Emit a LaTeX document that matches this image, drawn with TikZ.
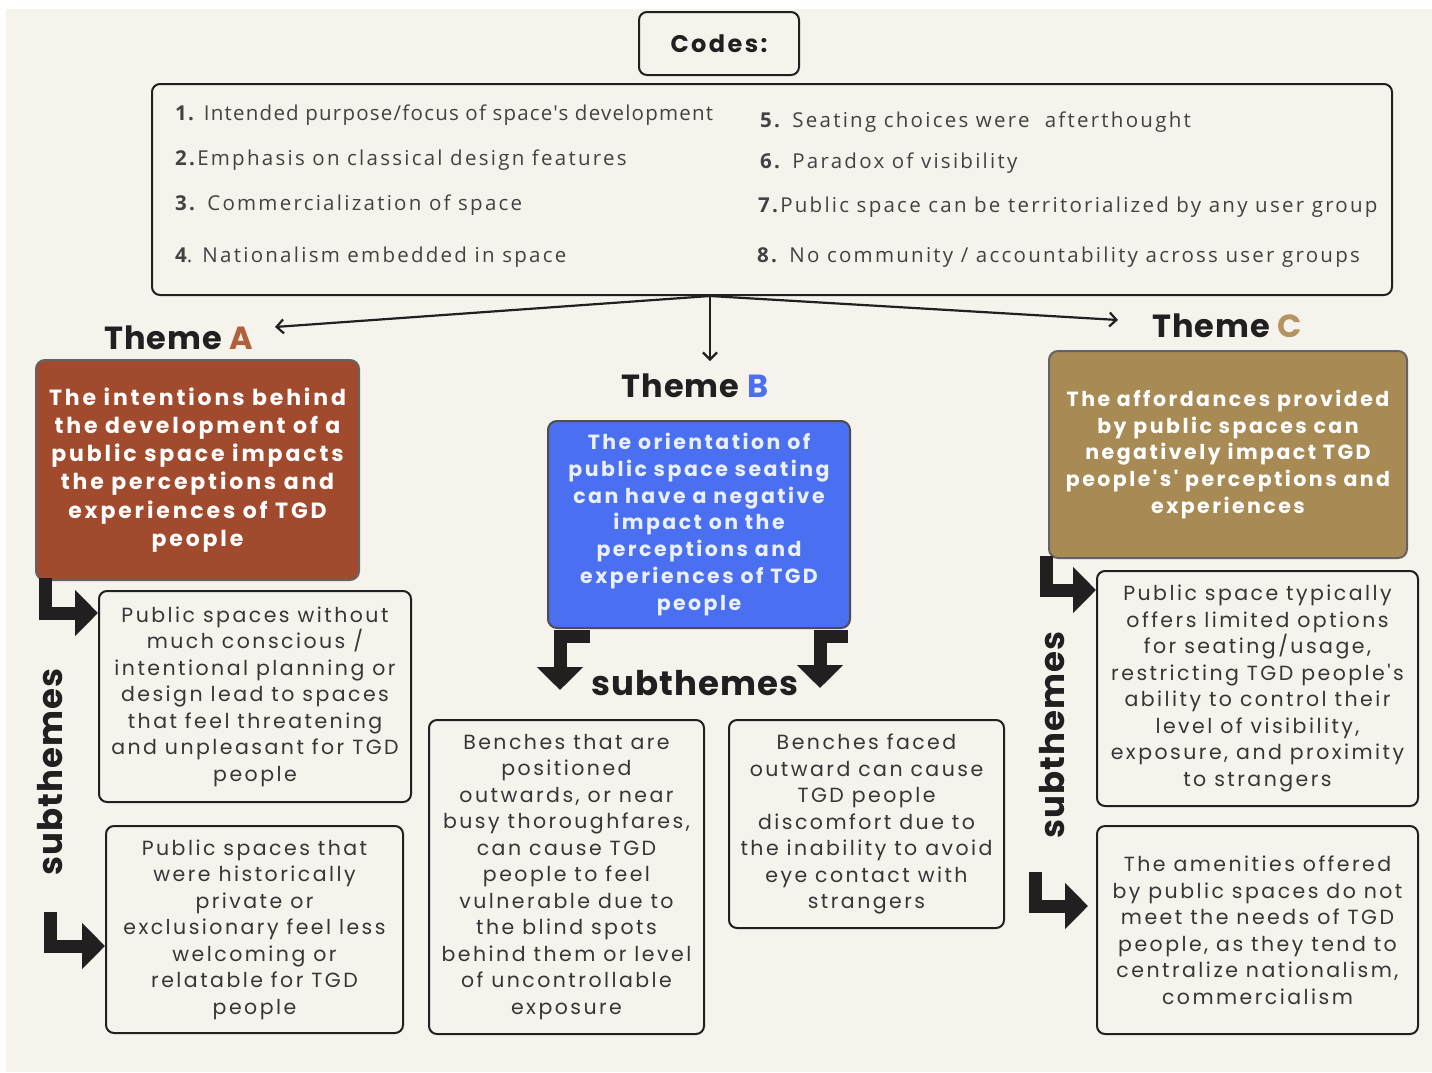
\documentclass[tikz,border=0pt]{standalone}
\usepackage{fontspec}
\setmainfont{Poppins}
\newfontfamily\boxfont[LetterSpace=12]{Poppins}
\newfontfamily\themefont[LetterSpace=12]{Poppins}
\newfontfamily\themefontA[LetterSpace=13]{Poppins}
\newfontfamily\codefont[LetterSpace=11]{Open Sans}
\newfontfamily\codefontone[LetterSpace=6]{Open Sans}
\newfontfamily\headfont[LetterSpace=3]{Poppins}
\newfontfamily\codeshead[LetterSpace=10]{Poppins}
\usetikzlibrary{arrows.meta,positioning,calc}
\definecolor{cream}{HTML}{F6F2EC}
\definecolor{ink}{HTML}{231F20}
\definecolor{brickA}{HTML}{A24A2E}
\definecolor{blueB}{HTML}{4A6FF0}
\definecolor{tanC}{HTML}{A88A55}
\definecolor{lblA}{HTML}{B0603A}
\definecolor{lblB}{HTML}{4A6FF0}
\definecolor{lblC}{HTML}{B39462}
\definecolor{btext}{HTML}{EAF0FF}
\tikzset{
  subbox/.style={draw=ink, line width=2pt, rounded corners=8pt, fill=cream,
    align=center, inner sep=0pt, text=ink!90,
    font=\boxfont\fontsize{20.5}{26.5}\selectfont},
  themebox/.style={draw=ink!70, line width=2pt, rounded corners=9pt,
    align=center, inner sep=0pt, text=white,
    font=\themefont\bfseries\fontsize{20.5}{26.7}\selectfont},
  themelabel/.style={font=\headfont\bfseries\fontsize{32}{36}\selectfont, text=ink, inner sep=0pt},
  codeitem/.style={anchor=west, inner sep=0pt, text=ink!85,
    font=\codefont\fontsize{20.5}{22}\selectfont},
  thin/.style={draw=ink, line width=2.2pt, -{Straight Barb[length=7pt,width=14pt,line width=2.2pt]}},
  bent/.style={draw=ink, line width=13pt, line join=miter,
    -{Triangle[width=45pt,length=23pt]}},
  subword/.style={font=\headfont\bfseries\fontsize{34}{38}\selectfont, text=ink, inner sep=0pt}
}
\begin{document}
\begin{tikzpicture}[x=1pt,y=-1pt]
\useasboundingbox (0,0) rectangle (1432,1072);
\fill[white] (0,0) rectangle (1432,1072);
\fill[cream] (6,9) rectangle (1432,1072);

% Codes header and list
\node[draw=ink, line width=2pt, rounded corners=8pt, fill=cream,
  minimum width=160pt, minimum height=63pt, font=\codeshead\bfseries\fontsize{24}{28}\selectfont, text=ink]
  (codes) at (719,43.5) {Codes:};
\node[draw=ink, line width=2pt, rounded corners=8pt,
  minimum width=1240pt, minimum height=211pt] (list) at (772,189.5) {};
\node[codeitem, font=\codefontone\fontsize{20.5}{22}\selectfont] (c1) at (175,115) {\textbf{1.} Intended purpose/focus of space's development};
\node[codeitem] (c2) at (175,160) {\textbf{2.}Emphasis on classical design features};
\node[codeitem] (c3) at (175,205) {\textbf{3.} Commercialization of space};
\node[codeitem] (c4) at (175,257) {\textbf{4}. Nationalism embedded in space};
\node[codeitem] (c5) at (760,122) {\textbf{5.} Seating choices were \ afterthought};
\node[codeitem] (c6) at (760,163) {\textbf{6.} Paradox of visibility};
\node[codeitem] (c7) at (758,207) {\textbf{7.}Public space can be territorialized by any user group};
\node[codeitem] (c8) at (757,257) {\textbf{8.} No community / accountability across user groups};

% Theme labels
\node[themelabel] (thA) at (179,338) {Theme \textcolor{lblA}{A}};
\node[themelabel] (thB) at (695,386) {Theme \textcolor{lblB}{B}};
\node[themelabel] (thC) at (1227,326) {Theme \textcolor{lblC}{C}};

% Connectors from codes
\coordinate (hub) at (710,296);
\coordinate (endA) at (275,327);
\coordinate (endB) at (710,361);
\coordinate (endC) at (1118,320);
\draw[thin] (hub) -- (endA);
\draw[thin] (hub) -- (endB);
\draw[thin] (hub) -- (endC);

% Theme boxes
\node[themebox, fill=brickA, minimum width=323pt, minimum height=220pt,
  font=\themefontA\bfseries\fontsize{22}{28.2}\selectfont] (boxA) at (197.5,470)
  {The intentions behind\\the development of a\\public space impacts\\the perceptions and\\experiences of TGD\\people};
\node[themebox, fill=blueB, draw=ink!80, text=btext, minimum width=302pt, minimum height=207pt] (boxB) at (699,524.5)
  {The orientation of\\public space seating\\can have a negative\\impact on the\\perceptions and\\experiences of TGD\\people};
\node[themebox, fill=tanC, minimum width=358pt, minimum height=207pt] (boxC) at (1228,454.5)
  {The affordances provided\\by public spaces can\\negatively impact TGD\\people's' perceptions and\\experiences};

% Subtheme boxes
\node[subbox, minimum width=312pt, minimum height=211pt] (a1) at (255,696.5)
  {Public spaces without\\much conscious /\\intentional planning or\\design lead to spaces\\that feel threatening\\and unpleasant for TGD\\people};
\node[subbox, minimum width=297pt, minimum height=207pt] (a2) at (254.5,929.5)
  {Public spaces that\\were historically\\private or\\exclusionary feel less\\welcoming or\\relatable for TGD\\people};
\node[subbox, minimum width=275pt, minimum height=314pt] (b1) at (566.5,877)
  {Benches that are\\positioned\\outwards, or near\\busy thoroughfares,\\can cause TGD\\people to feel\\vulnerable due to\\the blind spots\\behind them or level\\of uncontrollable\\exposure};
\node[subbox, minimum width=275pt, minimum height=208pt] (b2) at (866.5,824)
  {Benches faced\\outward can cause\\TGD people\\discomfort due to\\the inability to avoid\\eye contact with\\strangers};
\node[subbox, minimum width=321pt, minimum height=235pt] (c1b) at (1257.5,688.5)
  {Public space typically\\offers limited options\\for seating/usage,\\restricting TGD people's\\ability to control their\\level of visibility,\\exposure, and proximity\\to strangers};
\node[subbox, minimum width=321pt, minimum height=208pt] (c2b) at (1257.5,930)
  {The amenities offered\\by public spaces do not\\meet the needs of TGD\\people, as they tend to\\centralize nationalism,\\commercialism};

% "subthemes" words
\node[subword, rotate=90] (swA) at (50,772) {subthemes};
\node[subword] (swB) at (695,683) {subthemes};
\node[subword, rotate=90] (swC) at (1052,735) {subthemes};

% Bent thick arrows
\coordinate (pa1) at (45,578);
\coordinate (pa2) at (50,912);
\coordinate (pb1) at (590,636);
\coordinate (pb2) at (848,636);
\coordinate (pc1) at (1046,556);
\coordinate (pc2) at (1035,872);
\draw[bent] (pa1) -- (45,613) -- (a1.west |- 0,613);
\draw[bent] (pa2) -- (50,946) -- (a2.west |- 0,946);
\draw[bent] (pb1) -- (560,636) -- (560,690);
\draw[bent] (pb2) -- (820,636) -- (820,688);
\draw[bent] (pc1) -- (1046,590) -- (c1b.west |- 0,590);
\draw[bent] (pc2) -- (1035,906) -- (1088,906);
\end{tikzpicture}
\end{document}
